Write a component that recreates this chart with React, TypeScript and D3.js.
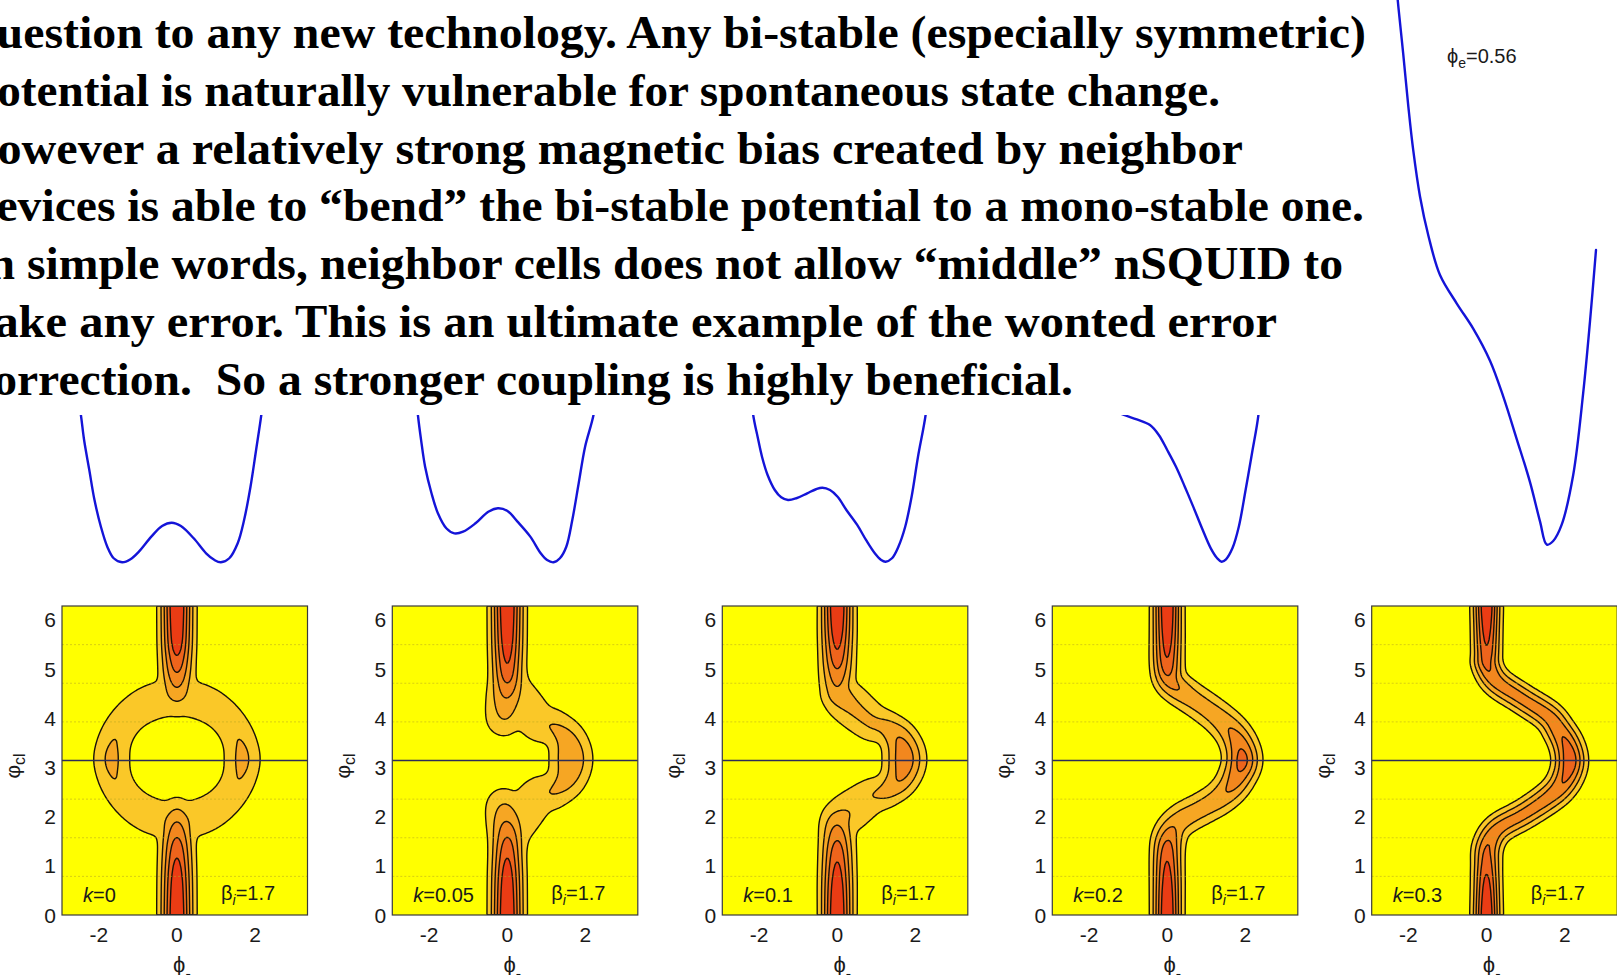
import React, { useMemo } from "react";
import * as d3 from "d3";

// ================= DATA =================
const paragraphLines = [
  "question to any new technology. Any bi-stable (especially symmetric)",
  "potential is naturally vulnerable for spontaneous state change.",
  "However a relatively strong magnetic bias created by neighbor",
  "devices is able to \u201cbend\u201d the bi-stable potential to a mono-stable one.",
  "In simple words, neighbor cells does not allow \u201cmiddle\u201d nSQUID to",
  "make any error. This is an ultimate example of the wonted error",
  "correction.  So a stronger coupling is highly beneficial.",
];

const couplingK = ["0", "0.05", "0.1", "0.2", "0.3"];
const betaValue = "1.7";
const phiExternal = "0.56";
const yTickValues = [0, 1, 2, 3, 4, 5, 6];
const xTickValues = [-2, 0, 2];
const phiDomain = [-2.94, 3.34];
const phiClDomain = [0, 2 * Math.PI];
const gridQuarterSteps = [1, 2, 3, 5, 6, 7]; // multiples of pi/4 (dotted)
const contourLevels = [1, 2, 3, 4, 5];

// ridges: [phi, phi_cl, peak value, half-width]
const ridgesK0 = [
  [[0, -0.6, 6.7, 0.365], [0, 0, 6.5, 0.365], [0, 0.7, 6.0, 0.37], [0, 1.27, 5.0, 0.38], [0, 1.61, 4.0, 0.4], [0, 1.89, 3.0, 0.42], [0, 2.09, 2.0, 0.45], [0, 2.2, 1.2, 0.45]],
  [[0, 6.9, 6.7, 0.365], [0, 6.28, 6.5, 0.365], [0, 5.6, 6.0, 0.37], [0, 5.21, 5.0, 0.38], [0, 4.9, 4.0, 0.4], [0, 4.63, 3.0, 0.42], [0, 4.39, 2.0, 0.45], [0, 4.18, 1.2, 0.45]],
  [[1.67, 3.17, 2.3, 0.5], [1.613, 3.494, 2.1, 0.5], [1.446, 3.795, 1.9, 0.52], [1.181, 4.054, 1.8, 0.55], [0.835, 4.253, 1.8, 0.58], [0.432, 4.377, 1.8, 0.6], [0, 4.42, 1.8, 0.6],
   [-0.432, 4.377, 1.8, 0.6], [-0.835, 4.253, 1.8, 0.58], [-1.181, 4.054, 1.8, 0.55], [-1.446, 3.795, 1.9, 0.52], [-1.613, 3.494, 2.1, 0.5], [-1.67, 3.17, 2.3, 0.5],
   [-1.613, 2.846, 2.1, 0.5], [-1.446, 2.545, 1.9, 0.52], [-1.181, 2.286, 1.8, 0.55], [-0.835, 2.087, 1.8, 0.58], [-0.432, 1.963, 1.8, 0.6], [0, 1.92, 1.8, 0.6],
   [0.432, 1.963, 1.8, 0.6], [0.835, 2.087, 1.8, 0.58], [1.181, 2.286, 1.8, 0.55], [1.446, 2.545, 1.9, 0.52], [1.613, 2.846, 2.1, 0.5], [1.67, 3.17, 2.3, 0.5]],
];
const ridgesK005 = [
  [[0, -0.6, 6.7, 0.365], [0, 0, 6.5, 0.365], [0, 0.7, 6.0, 0.37], [0, 1.27, 5.0, 0.38], [0, 1.61, 4.0, 0.42], [-0.03, 1.89, 3.0, 0.48], [-0.08, 2.2, 2.0, 0.55], [-0.12, 2.28, 1.5, 0.5]],
  [[0, 6.9, 6.7, 0.365], [0, 6.28, 6.5, 0.365], [0, 5.6, 6.0, 0.37], [0, 5.0, 5.0, 0.38], [0, 4.7, 4.0, 0.42], [-0.03, 4.42, 3.0, 0.48], [-0.08, 4.02, 2.0, 0.55], [-0.12, 3.95, 1.5, 0.5]],
  [[0.1, 1.5, 1.5, 0.55], [0.4, 2.0, 1.7, 0.65], [0.78, 2.402, 1.9, 0.6], [1.188, 2.522, 2.1, 0.52], [1.527, 2.789, 2.5, 0.52], [1.63, 3.17, 2.9, 0.54], [1.527, 3.551, 2.5, 0.52], [1.188, 3.818, 2.1, 0.52], [0.78, 3.938, 1.9, 0.6], [0.4, 4.33, 1.7, 0.65], [0.1, 4.78, 1.5, 0.55]],
];
const ridgesK01 = [
  [[0, -0.6, 6.7, 0.36], [0, 0, 6.5, 0.36], [0, 0.6, 6.0, 0.37], [0, 1.2, 5.0, 0.38], [0, 1.55, 4.0, 0.4], [0, 1.82, 3.0, 0.44], [0.05, 1.95, 2.4, 0.5]],
  [[0.05, 1.95, 2.4, 0.5], [0.35, 2.12, 1.95, 0.62], [0.85, 2.402, 2.0, 0.54], [1.258, 2.522, 2.4, 0.45], [1.597, 2.789, 3.2, 0.46], [1.72, 3.17, 3.8, 0.49], [1.597, 3.551, 3.2, 0.46], [1.258, 3.818, 2.4, 0.45], [0.85, 3.938, 2.2, 0.54], [0.3, 4.3, 2.3, 0.58], [0.03, 4.5, 2.8, 0.45]],
  [[0.03, 4.5, 2.8, 0.45], [0, 4.63, 3.0, 0.42], [0, 4.97, 4.0, 0.4], [0, 5.3, 5.0, 0.38], [0, 5.8, 6.0, 0.37], [0, 6.28, 6.5, 0.36], [0, 6.9, 6.7, 0.36]],
];
const ridgesK02 = [
  [[0, -0.6, 6.7, 0.32], [0, 0, 6.5, 0.32], [0, 0.6, 6.0, 0.33], [0, 1.25, 5.0, 0.35], [0.04, 1.55, 4.0, 0.38], [0.18, 1.8, 3.0, 0.4], [0.45, 1.98, 2.7, 0.42], [0.85, 2.15, 2.6, 0.42], [1.3, 2.36, 2.8, 0.42], [1.62, 2.6, 3.3, 0.42], [1.82, 2.88, 4.0, 0.42], [1.92, 3.14, 4.6, 0.42], [1.86, 3.42, 4.0, 0.42], [1.68, 3.7, 3.3, 0.42], [1.38, 3.96, 2.8, 0.42], [1.0, 4.2, 2.6, 0.42], [0.6, 4.42, 2.7, 0.41], [0.25, 4.62, 3.2, 0.39], [0.05, 4.8, 3.8, 0.37], [0, 5.1, 5.0, 0.35], [0, 5.7, 6.0, 0.33], [0, 6.28, 6.5, 0.32], [0, 6.9, 6.7, 0.32]],
];
const ridgesK03 = [
  [[0, -0.6, 6.7, 0.3], [0, 0, 6.5, 0.3], [0, 0.6, 5.8, 0.3], [0, 1.0, 5.0, 0.31], [0.03, 1.4, 4.3, 0.33], [0.29, 1.75, 3.7, 0.34], [0.95, 2.05, 3.6, 0.34], [1.52, 2.35, 3.7, 0.35], [1.85, 2.58, 4.0, 0.36], [2.05, 2.85, 4.5, 0.37], [2.13, 3.14, 5.0, 0.37], [2.05, 3.45, 4.5, 0.37], [1.85, 3.75, 4.0, 0.36], [1.57, 4.05, 3.7, 0.35], [0.9, 4.4, 3.6, 0.34], [0.25, 4.75, 3.8, 0.34], [0, 5.1, 4.6, 0.32], [0, 5.28, 5.0, 0.31], [0, 5.8, 5.9, 0.3], [0, 6.28, 6.5, 0.3], [0, 6.9, 6.7, 0.3]],
];
const ridgesByPanel = [ridgesK0, ridgesK005, ridgesK01, ridgesK02, ridgesK03];

// potential curves [phi, U]
const potentialK0 = [[-2.4, 12], [-2.27, 9.82], [-2.19, 8.15], [-2.06, 6.15], [-1.93, 4.15], [-1.77, 2.37], [-1.61, 1.04], [-1.45, 0.27], [-1.24, 0], [-1.03, 0.2], [-0.82, 0.71], [-0.51, 1.71], [-0.24, 2.42], [0, 2.64], [0.23, 2.42], [0.55, 1.6], [0.86, 0.6], [1.07, 0.15], [1.23, 0], [1.44, 0.27], [1.65, 1.27], [1.81, 2.82], [1.97, 5.04], [2.11, 7.49], [2.24, 9.82], [2.34, 12]];
const potentialK005 = [[-2.08, 12], [-2.0, 9.82], [-1.92, 8.15], [-1.82, 6.37], [-1.66, 4.6], [-1.5, 3.27], [-1.29, 2.27], [-1.09, 1.93], [-0.87, 2.04], [-0.56, 2.6], [-0.24, 3.37], [0, 3.6], [0.23, 3.44], [0.49, 2.71], [0.81, 1.71], [1.07, 0.6], [1.23, 0.15], [1.39, 0], [1.55, 0.27], [1.71, 1.04], [1.86, 2.82], [2.02, 5.27], [2.18, 7.71], [2.39, 9.82], [2.5, 12]];
const potentialK01 = [[-2.25, 12], [-2.17, 9.82], [-2.06, 8.37], [-1.95, 7.04], [-1.81, 5.82], [-1.63, 4.82], [-1.47, 4.33], [-1.3, 4.15], [-1.09, 4.27], [-0.82, 4.6], [-0.6, 4.87], [-0.44, 4.97], [-0.25, 4.82], [-0.06, 4.37], [0.16, 3.49], [0.43, 2.49], [0.65, 1.49], [0.87, 0.6], [1.03, 0.15], [1.14, 0.04], [1.3, 0.27], [1.46, 1.04], [1.63, 2.37], [1.79, 4.37], [1.95, 7.04], [2.14, 9.82], [2.22, 12]];
const potentialK02 = [[-1.8, 10.3], [-1.4, 9.82], [-1.08, 9.53], [-0.75, 9.15], [-0.53, 8.49], [-0.32, 7.49], [-0.1, 6.37], [0.12, 5.04], [0.33, 3.71], [0.55, 2.27], [0.77, 0.93], [0.93, 0.27], [1.04, 0.04], [1.15, 0.2], [1.31, 0.93], [1.47, 2.37], [1.64, 4.82], [1.8, 7.27], [1.96, 9.82], [2.02, 12]];
const potentialK03 = [[-2.58, 37], [-2.54, 35.83], [-2.42, 32.73], [-2.29, 29.17], [-2.17, 26.31], [-2.0, 23.21], [-1.79, 20.59], [-1.5, 17.97], [-1.08, 16.07], [-0.67, 14.4], [-0.25, 12.26], [0.08, 9.88], [0.42, 7.02], [0.75, 4.17], [1.0, 1.55], [1.17, 0], [1.33, 0.24], [1.54, 1.31], [1.83, 4.64], [2.08, 10.11], [2.25, 14.88], [2.4, 19.64]];
const potentials = [potentialK0, potentialK005, potentialK01, potentialK02, potentialK03];

// ================= LAYOUT / STYLE =================
const W = 1617, H = 975;
const TEXT_START = [-30, -29, -40, -30, -30, -46, -28];
const TEXT_END = [1366, 1220, 1243, 1364, 1343, 1277, 1073];
const TEXT_BASE0 = 48, TEXT_STEP = 57.8, TEXT_SIZE = 47;
const PANEL_LEFT = [62, 392.3, 722.3, 1052.3, 1371.7];
const PANEL_W = 245.5, PANEL_TOP = 606, PANEL_BOTTOM = 915;
const POT_X0 = [171.7, 497.9, 840, 1180, 1500];
const POT_BASE = [562.3, 562.3, 562.3, 562.3, 544.6];
const POT_CLIP = [true, true, true, true, false];
const POT_PHI_PX = 40, POT_U_PX = 15, POT_CLIP_TOP = 415;
const bandColors = ["#ffff00", "#fac828", "#f6a623", "#f2871e", "#ee641c", "#ea3c14"];
const SANS = "'Liberation Sans', Arial, Helvetica, sans-serif";
const SERIF = "'Liberation Serif', 'Times New Roman', serif";

// smooth a ridge polyline (Catmull-Rom) so that the tube has no creases
function smoothRidge(r: number[][], n = 8) {
  const closed = r.length > 2 && r[0][0] === r[r.length - 1][0] && r[0][1] === r[r.length - 1][1];
  const pts = closed ? r.slice(0, -1) : r;
  const m = pts.length;
  const get = (i: number) => (closed ? pts[((i % m) + m) % m] : pts[Math.max(0, Math.min(m - 1, i))]);
  const out: number[][] = [];
  const segs = closed ? m : m - 1;
  for (let i = 0; i < segs; i++) {
    const p0 = get(i - 1), p1 = get(i), p2 = get(i + 1), p3 = get(i + 2);
    for (let s = 0; s < n; s++) {
      const t = s / n, t2 = t * t, t3 = t2 * t;
      out.push(p1.map((_, k) => 0.5 * (2 * p1[k] + (-p0[k] + p2[k]) * t + (2 * p0[k] - 5 * p1[k] + 4 * p2[k] - p3[k]) * t2 + (-p0[k] + 3 * p1[k] - 3 * p2[k] + p3[k]) * t3)));
    }
  }
  out.push(closed ? pts[0] : pts[m - 1]);
  return out;
}

function fieldAt(phi: number, cl: number, ridges: number[][][], aspect: number) {
  let best = 0;
  for (const r of ridges) {
    for (let s = 0; s < r.length - 1; s++) {
      const [x0, y0, a0, w0] = r[s];
      const [x1, y1, a1, w1] = r[s + 1];
      const dx = x1 - x0, dy = (y1 - y0) * aspect;
      const px = phi - x0, py = (cl - y0) * aspect;
      const L2 = dx * dx + dy * dy;
      let t = L2 > 0 ? (px * dx + py * dy) / L2 : 0;
      t = Math.max(0, Math.min(1, t));
      const ex = px - t * dx, ey = py - t * dy;
      const a = a0 + t * (a1 - a0), w = w0 + t * (w1 - w0);
      const v = a * Math.exp(-(ex * ex + ey * ey) / (w * w));
      if (v > best) best = v;
    }
  }
  return best;
}

function ContourPanel({ idx }: { idx: number }) {
  const left = PANEL_LEFT[idx];
  const x = d3.scaleLinear().domain(phiDomain).range([left, left + PANEL_W]);
  const y = d3.scaleLinear().domain(phiClDomain).range([PANEL_BOTTOM, PANEL_TOP]);
  const paths = useMemo(() => {
    const ridges = ridgesByPanel[idx].map((r) => smoothRidge(r));
    const nx = 160, ny = 200;
    const gx = d3.scaleLinear().domain([0, nx]).range(phiDomain);
    const gy = d3.scaleLinear().domain([0, ny]).range([phiClDomain[1], phiClDomain[0]]);
    const aspect = ((PANEL_BOTTOM - PANEL_TOP) / (phiClDomain[1] - phiClDomain[0])) / (PANEL_W / (phiDomain[1] - phiDomain[0]));
    const values: number[] = new Array(nx * ny);
    for (let j = 0; j < ny; j++) {
      for (let i = 0; i < nx; i++) {
        values[j * nx + i] = fieldAt(gx(i + 0.5), gy(j + 0.5), ridges, aspect);
      }
    }
    try {
      if (typeof (d3 as any).blur2 === "function") (d3 as any).blur2({ data: values, width: nx, height: ny }, 1.5);
    } catch (e) { /* ignore */ }
    const cs = d3.contours().size([nx, ny]).thresholds(contourLevels)(values);
    const px = d3.scaleLinear().domain([0, nx]).range([left, left + PANEL_W]);
    const py = d3.scaleLinear().domain([0, ny]).range([PANEL_TOP, PANEL_BOTTOM]);
    const proj = d3.geoTransform({
      point(a: number, b: number) {
        (this as any).stream.point(px(a), py(b));
      },
    });
    const path = d3.geoPath(proj as any);
    return cs.map((c) => ({ value: c.value, d: path(c as any) || "" }));
  }, [idx]);

  const clipId = `panelclip${idx}`;
  return (
    <g>
      <defs>
        <clipPath id={clipId}>
          <rect x={left} y={PANEL_TOP} width={PANEL_W} height={PANEL_BOTTOM - PANEL_TOP} />
        </clipPath>
      </defs>
      <g clipPath={`url(#${clipId})`}>
        <rect x={left} y={PANEL_TOP} width={PANEL_W} height={PANEL_BOTTOM - PANEL_TOP} fill={bandColors[0]} />
        {paths.map((p, i) => (
          <path key={"f" + i} d={p.d} fill={bandColors[i + 1]} fillRule="evenodd" stroke="none" />
        ))}
        {paths.map((p, i) => (
          <path key={"s" + i} d={p.d} fill="none" stroke="#1a1208" strokeWidth={1.4} strokeLinejoin="round" />
        ))}
        {gridQuarterSteps.map((q) => (
          <line key={q} x1={left} x2={left + PANEL_W} y1={y((q * Math.PI) / 4)} y2={y((q * Math.PI) / 4)}
            stroke="#b8a820" strokeOpacity={0.55} strokeWidth={1} strokeDasharray="2 2" />
        ))}
        <line x1={left} x2={left + PANEL_W} y1={y(Math.PI)} y2={y(Math.PI)} stroke="#2c2c58" strokeWidth={1.3} />
      </g>
      <rect x={left} y={PANEL_TOP} width={PANEL_W} height={PANEL_BOTTOM - PANEL_TOP} fill="none" stroke="#3a3a3a" strokeWidth={1.2} />
      {yTickValues.map((v) => (
        <text key={"y" + v} x={left - 6} y={y(v)} dy="0.36em" textAnchor="end" fontFamily={SANS} fontSize={21} fill="#1a1a1a">{v}</text>
      ))}
      {xTickValues.map((v) => (
        <text key={"x" + v} x={x(v)} y={942} textAnchor="middle" fontFamily={SANS} fontSize={21} fill="#1a1a1a">{v}</text>
      ))}
      <text transform={`translate(${left - 42},${766}) rotate(-90)`} textAnchor="middle" fontFamily={SANS} fontSize={21} fill="#1a1a1a">
        {"\u03c6"}<tspan dy={5} fontSize={16}>cl</tspan>
      </text>
      <text x={x(0) + 5} y={972} textAnchor="middle" fontFamily={SANS} fontSize={22} fill="#1a1a1a">
        {"\u03d5"}<tspan dy={7} fontSize={16}>-</tspan>
      </text>
      <text x={left + 21} y={902} fontFamily={SANS} fontSize={20} fill="#1a1a1a">
        <tspan fontStyle="italic">k</tspan>={couplingK[idx]}
      </text>
      <text x={left + 159} y={900} fontFamily={SANS} fontSize={20} fill="#1a1a1a">
        {"\u03b2"}<tspan dy={5} fontSize={14} fontStyle="italic">i</tspan><tspan dy={-5}>={betaValue}</tspan>
      </text>
    </g>
  );
}

function PotentialCurve({ idx }: { idx: number }) {
  const x0 = POT_X0[idx], base = POT_BASE[idx];
  const xs = d3.scaleLinear().domain([0, 1]).range([x0, x0 + POT_PHI_PX]);
  const ys = d3.scaleLinear().domain([0, 1]).range([base, base - POT_U_PX]);
  const line = d3.line<number[]>().x((d) => xs(d[0])).y((d) => ys(d[1])).curve(d3.curveCatmullRom.alpha(0.5));
  const clipId = `potclip${idx}`;
  return (
    <g>
      {POT_CLIP[idx] && (
        <defs>
          <clipPath id={clipId}>
            <rect x={x0 - 200} y={POT_CLIP_TOP} width={400} height={200} />
          </clipPath>
        </defs>
      )}
      <path d={line(potentials[idx] as number[][]) || ""} fill="none" stroke="#1414d8" strokeWidth={2.4}
        strokeLinejoin="round" strokeLinecap="round" clipPath={POT_CLIP[idx] ? `url(#${clipId})` : undefined} />
    </g>
  );
}

export default function App() {
  return (
    <svg width={W} height={H} viewBox={`0 0 ${W} ${H}`} style={{ position: "absolute", left: 0, top: 0, background: "#ffffff" }}>
      <rect x={0} y={0} width={W} height={H} fill="#ffffff" />
      {paragraphLines.map((t, i) => (
        <text key={i} x={TEXT_START[i]} y={TEXT_BASE0 + i * TEXT_STEP} fontFamily={SERIF} fontWeight="bold" fontSize={TEXT_SIZE}
          fill="#000" textLength={TEXT_END[i] - TEXT_START[i]} lengthAdjust="spacingAndGlyphs" style={{ whiteSpace: "pre" }}>
          {t}
        </text>
      ))}
      {potentials.map((_, i) => <PotentialCurve key={i} idx={i} />)}
      <text x={1447} y={63} fontFamily={SANS} fontSize={20} fill="#1a1a1a">
        {"\u03d5"}<tspan dy={5} fontSize={14}>e</tspan><tspan dy={-5}>={phiExternal}</tspan>
      </text>
      {couplingK.map((_, i) => <ContourPanel key={i} idx={i} />)}
    </svg>
  );
}
